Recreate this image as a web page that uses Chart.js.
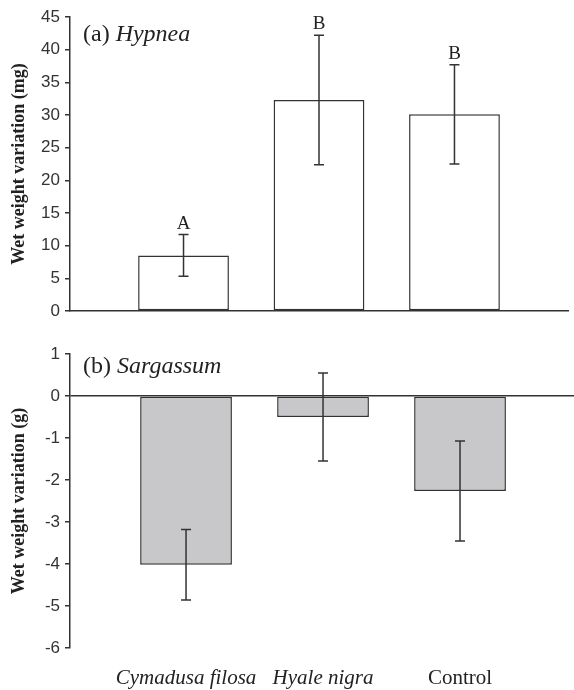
<!DOCTYPE html>
<html>
<head>
<meta charset="utf-8">
<script src="https://cdn.jsdelivr.net/npm/chart.js@4.4.1/dist/chart.umd.min.js"></script>
<style>
  html, body { margin: 0; padding: 0; background: #fff; }
  .panel { position: relative; width: 574px; }
  #topPanel { height: 330px; }
  #bottomPanel { height: 360px; }
</style>
</head>
<body>
<div class="panel" id="topPanel"><canvas id="hypneaChart"></canvas></div>
<div class="panel" id="bottomPanel"><canvas id="sargassumChart"></canvas></div>
<script>
// data
const categories = ['Cymadusa filosa', 'Hyale nigra', 'Control'];
const italicCategory = [true, true, false];

const hypneaMeans = [8.5, 32.3, 30.1];
const hypneaErrors = [3.2, 9.9, 7.6];
const hypneaLetters = ['A', 'B', 'B'];
const hypneaTicks = [0, 5, 10, 15, 20, 25, 30, 35, 40, 45];

const sargassumMeans = [-4.02, -0.5, -2.26];
const sargassumErrors = [0.84, 1.05, 1.19];
const sargassumTicks = [-6, -5, -4, -3, -2, -1, 0, 1];

const LINE = '#333';
const SANS = '"Liberation Sans", Arial, sans-serif';
const SERIF = '"Liberation Serif", "Times New Roman", serif';

Chart.defaults.animation = false;
Chart.defaults.color = '#222';

const errorBarPlugin = {
  id: 'errorBars',
  afterDatasetsDraw(chart, args, opts) {
    const { ctx, chartArea } = chart;
    const x = chart.scales.x;
    const y = chart.scales.y;
    ctx.save();
    ctx.strokeStyle = LINE;
    ctx.lineWidth = 1.5;
    opts.means.forEach((mean, i) => {
      const px = x.getPixelForValue(i);
      const top = y.getPixelForValue(mean + opts.errors[i]);
      const bottom = y.getPixelForValue(mean - opts.errors[i]);
      ctx.beginPath();
      ctx.moveTo(px, top);
      ctx.lineTo(px, bottom);
      ctx.moveTo(px - 5, top);
      ctx.lineTo(px + 5, top);
      ctx.moveTo(px - 5, bottom);
      ctx.lineTo(px + 5, bottom);
      ctx.stroke();
      if (opts.letters) {
        ctx.fillStyle = '#222';
        ctx.font = '19px ' + SERIF;
        ctx.textAlign = 'center';
        ctx.textBaseline = 'alphabetic';
        ctx.fillText(opts.letters[i], px, top - 6);
      }
    });

    // panel label, e.g. "(a) Hypnea"
    ctx.fillStyle = '#222';
    ctx.textAlign = 'left';
    ctx.textBaseline = 'alphabetic';
    const lx = chartArea.left + 13;
    const ly = chartArea.top + opts.labelOffset;
    ctx.font = '24px ' + SERIF;
    ctx.fillText(opts.prefix, lx, ly);
    const w = ctx.measureText(opts.prefix).width;
    ctx.font = 'italic 24px ' + SERIF;
    ctx.fillText(opts.genus, lx + w, ly);
    ctx.restore();
  }
};

function categoryTicks(scale) {
  scale.ticks = categories.map((c, i) => ({ value: i }));
}

function buildChart(canvasId, cfg) {
  const yTicks = cfg.ticks;
  return new Chart(document.getElementById(canvasId), {
    type: 'bar',
    data: {
      datasets: [{
        data: cfg.means.map((v, i) => ({ x: i, y: v })),
        backgroundColor: cfg.fill,
        borderColor: LINE,
        borderWidth: 1.5,
        borderSkipped: false,
        categoryPercentage: 1,
        barPercentage: 0.67
      }]
    },
    options: {
      responsive: true,
      maintainAspectRatio: false,
      layout: { padding: { top: cfg.padTop, right: cfg.padRight, left: 0, bottom: 0 } },
      plugins: {
        legend: { display: false },
        tooltip: { enabled: false },
        errorBars: {
          means: cfg.means,
          errors: cfg.errors,
          letters: cfg.letters,
          prefix: cfg.prefix,
          genus: cfg.genus,
          labelOffset: cfg.labelOffset
        }
      },
      scales: {
        x: {
          type: 'linear',
          offset: false,
          min: cfg.xMin,
          max: cfg.xMax,
          afterBuildTicks: categoryTicks,
          afterFit: (scale) => { scale.height = cfg.xHeight; },
          grid: { display: false },
          border: { display: cfg.xBorder, color: LINE, width: 1.5 },
          ticks: {
            display: cfg.showLabels,
            padding: 10,
            color: '#222',
            callback: (value) => categories[value],
            font: (ctx) => ({
              family: SERIF,
              size: 21,
              style: italicCategory[ctx.index] ? 'italic' : 'normal'
            })
          }
        },
        y: {
          min: yTicks[0],
          max: yTicks[yTicks.length - 1],
          afterBuildTicks: (scale) => { scale.ticks = yTicks.map(v => ({ value: v })); },
          afterFit: (scale) => { scale.width = 70; },
          border: { display: true, color: LINE, width: 1.5 },
          grid: {
            drawOnChartArea: cfg.zeroLine,
            color: (ctx) => (cfg.zeroLine && ctx.tick && ctx.tick.value === 0) ? LINE : 'rgba(0,0,0,0)',
            lineWidth: 1.5,
            tickColor: LINE,
            tickLength: 5
          },
          ticks: {
            padding: 5,
            color: '#333',
            font: { family: SANS, size: 17 }
          },
          title: {
            display: true,
            text: cfg.yTitle,
            color: '#222',
            padding: { top: 9, bottom: 0 },
            font: { family: SERIF, size: 18, weight: 'bold' }
          }
        }
      }
    },
    plugins: [errorBarPlugin]
  });
}

buildChart('hypneaChart', {
  means: hypneaMeans,
  errors: hypneaErrors,
  letters: hypneaLetters,
  ticks: hypneaTicks,
  fill: '#ffffff',
  prefix: '(a) ',
  genus: 'Hypnea',
  labelOffset: 24,
  yTitle: 'Wet weight variation (mg)',
  padTop: 17,
  padRight: 6,
  xMin: -0.838,
  xMax: 2.838,
  xHeight: 19,
  xBorder: true,
  showLabels: false,
  zeroLine: false
});

buildChart('sargassumChart', {
  means: sargassumMeans,
  errors: sargassumErrors,
  letters: null,
  ticks: sargassumTicks,
  fill: '#c8c8ca',
  prefix: '(b) ',
  genus: 'Sargassum',
  labelOffset: 19,
  yTitle: 'Wet weight variation (g)',
  padTop: 24,
  padRight: 0,
  xMin: -0.847,
  xMax: 2.832,
  xHeight: 42,
  xBorder: false,
  showLabels: true,
  zeroLine: true
});
</script>
</body>
</html>
